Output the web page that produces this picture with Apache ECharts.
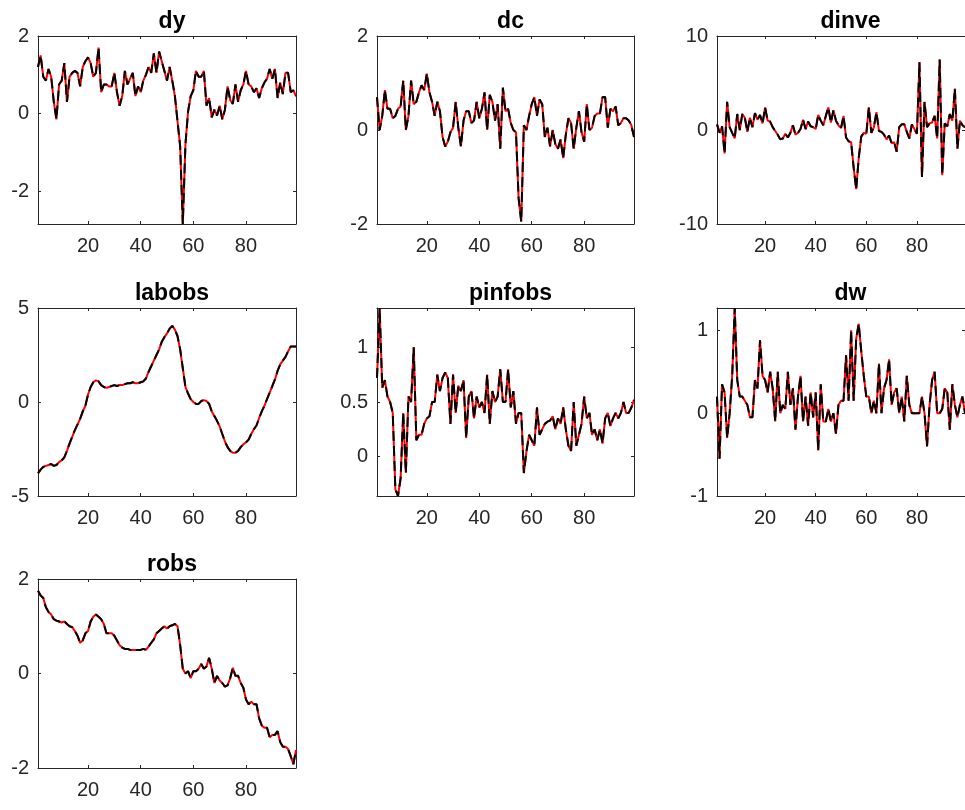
<!DOCTYPE html>
<html>
<head>
<meta charset="utf-8">
<script src="https://cdn.jsdelivr.net/npm/echarts@6/dist/echarts.min.js"></script>
<style>
  html, body { margin: 0; padding: 0; background: #fff; }
  #chart { width: 965px; height: 810px; }
</style>
</head>
<body>
<div id="chart"></div>
<script>
// Observed series, periods 1..99
const dy = [1.2,1.5,0.95,0.85,1.15,0.95,0.3,-0.15,0.75,0.85,1.3,0.3,0.95,1.05,1.1,1.05,0.7,1.2,1.35,1.45,1.3,0.95,1.05,1.7,0.55,0.75,0.75,0.7,0.7,1.05,0.55,0.2,0.45,1.1,0.75,0.9,1.05,0.45,0.7,0.55,0.85,1.0,1.2,1.05,1.55,1.05,1.6,1.35,1.1,0.85,1.2,0.85,0.45,-0.2,-0.85,-2.85,-0.8,0.05,0.45,0.6,1.1,0.95,0.95,1.1,0.2,0.4,-0.1,0.1,-0.05,0.2,-0.15,0.1,0.7,0.35,0.25,0.75,0.3,0.6,0.75,1.1,0.75,0.7,0.55,0.65,0.4,0.65,0.8,0.9,1.15,0.9,1.15,0.4,0.8,0.5,1.05,1.05,0.55,0.6,0.45];
const dc = [0.7,0.0,0.3,0.85,0.45,0.45,0.25,0.3,0.45,0.5,1.05,0.0,0.3,1.05,0.55,0.6,0.8,0.95,0.85,1.2,0.8,0.6,0.3,0.6,0.4,-0.15,-0.35,-0.25,-0.05,0.05,0.6,0.05,-0.35,0.2,0.4,0.4,0.15,0.2,0.6,0.25,0.45,0.8,0.0,0.75,0.6,0.2,0.55,-0.4,0.9,0.4,0.45,0.15,0.0,-0.05,-1.45,-1.95,0.1,0.0,0.3,0.55,0.7,0.3,0.65,0.55,-0.15,0.05,-0.35,0.0,-0.3,-0.4,-0.2,-0.6,-0.1,0.25,0.15,-0.4,0.05,0.4,-0.05,-0.25,0.55,0.0,0.05,0.3,0.35,0.35,0.7,0.7,0.05,0.45,0.4,0.5,0.1,0.15,0.25,0.25,0.2,0.1,-0.15];
const dinve = [0.6,-0.3,0.4,-2.5,3.0,0.3,-0.3,-0.9,1.7,0.0,1.7,1.3,-0.2,1.3,0.3,1.8,1.1,1.6,0.7,2.4,1.0,0.9,0.3,-0.1,-0.5,-1.0,-0.9,-0.4,-0.8,-0.3,0.5,-0.5,-0.3,0.1,1.1,0.1,0.9,0.4,0.3,0.1,1.6,1.0,0.5,1.5,2.4,0.8,2.1,1.0,0.5,0.2,1.5,-0.8,-1.2,-1.3,-4.0,-6.3,-3.0,-0.7,-0.3,-0.4,2.4,-0.3,0.3,1.9,-0.1,-0.2,-0.5,-1.0,-0.6,-1.4,-1.3,-2.3,0.3,0.6,0.6,-0.2,-0.9,0.6,0.1,-0.4,7.2,-5.0,3.0,0.3,0.7,0.8,1.5,-0.9,7.5,-4.8,0.7,0.4,1.7,1.0,4.4,-2.0,1.0,0.5,0.3];
const labobs = [-3.8,-3.6,-3.45,-3.4,-3.35,-3.3,-3.4,-3.35,-3.2,-3.1,-2.95,-2.6,-2.2,-1.85,-1.5,-1.2,-0.9,-0.5,-0.2,0.4,0.8,1.05,1.15,1.1,0.9,0.8,0.75,0.8,0.85,0.9,0.85,0.9,0.9,0.95,1.0,1.0,1.05,1.0,1.0,1.05,1.1,1.25,1.6,1.9,2.2,2.5,2.8,3.2,3.45,3.65,3.9,4.05,3.85,3.5,2.8,1.8,0.8,0.45,0.15,0.0,-0.1,-0.1,0.05,0.1,0.05,-0.1,-0.5,-0.75,-1.0,-1.3,-1.7,-2.1,-2.4,-2.6,-2.7,-2.7,-2.6,-2.4,-2.25,-2.15,-2.0,-1.7,-1.45,-1.25,-0.85,-0.5,-0.2,0.15,0.5,0.85,1.2,1.65,2.0,2.2,2.4,2.7,2.95,2.95,2.95];
const pinfobs = [0.72,1.36,0.63,0.7,0.55,0.5,0.4,-0.3,-0.36,-0.2,0.4,-0.15,0.55,0.5,1.0,0.15,0.2,0.2,0.3,0.35,0.37,0.5,0.5,0.75,0.6,0.72,0.77,0.72,0.3,0.75,0.4,0.65,0.6,0.7,0.17,0.55,0.6,0.35,0.55,0.45,0.5,0.4,0.75,0.3,0.6,0.5,0.55,0.8,0.5,0.5,0.8,0.45,0.6,0.3,0.4,0.4,-0.15,0.05,0.2,0.15,0.1,0.45,0.2,0.25,0.3,0.32,0.33,0.37,0.25,0.35,0.3,0.45,0.25,0.1,0.05,0.5,0.1,0.2,0.3,0.55,0.35,0.4,0.2,0.25,0.15,0.25,0.12,0.35,0.4,0.28,0.35,0.4,0.35,0.4,0.5,0.4,0.4,0.45,0.52];
const dw = [0.2,-0.55,0.35,0.25,-0.3,0.0,0.45,1.27,0.4,0.2,0.2,0.15,0.1,-0.05,-0.05,0.4,0.3,0.88,0.45,0.4,0.25,0.5,0.3,-0.1,0.5,0.0,0.1,0.05,0.5,0.1,0.3,-0.2,0.2,0.45,-0.1,0.2,-0.15,0.25,-0.05,0.25,-0.45,0.35,-0.1,-0.1,0.05,-0.1,0.0,-0.25,0.1,0.15,0.15,0.7,0.15,1.0,0.15,0.9,1.08,0.75,0.45,0.2,0.2,0.0,0.15,0.0,0.6,0.0,0.3,0.4,0.65,0.1,0.25,0.3,0.0,0.2,-0.1,0.45,0.1,0.0,0.0,0.0,0.0,0.2,0.0,-0.4,0.1,0.4,0.5,0.0,0.0,0.05,0.3,0.25,-0.2,0.35,0.1,-0.05,0.1,0.2,0.0];
const robs = [1.75,1.65,1.6,1.4,1.3,1.25,1.15,1.12,1.1,1.08,1.1,1.05,1.0,0.98,0.9,0.8,0.65,0.7,0.85,0.9,1.1,1.2,1.25,1.2,1.15,1.05,0.85,0.85,0.85,0.8,0.7,0.6,0.55,0.52,0.52,0.5,0.5,0.5,0.5,0.5,0.52,0.5,0.57,0.65,0.72,0.85,0.9,0.95,1.0,0.95,1.0,1.02,1.05,1.0,0.6,0.1,0.0,0.05,-0.1,0.05,0.05,0.1,0.2,0.1,0.15,0.33,0.1,-0.2,-0.05,-0.15,-0.2,-0.28,-0.25,-0.1,0.12,-0.05,-0.05,-0.2,-0.3,-0.55,-0.65,-0.6,-0.65,-0.65,-0.95,-1.1,-1.15,-1.15,-1.35,-1.3,-1.3,-1.22,-1.45,-1.55,-1.55,-1.6,-1.75,-1.92,-1.62];

// Tick labels
const xTicks = [20, 40, 60, 80];
const yTicksDy = [-2, 0, 2];
const yTicksDc = [-2, 0, 2];
const yTicksDinve = [-10, 0, 10];
const yTicksLabobs = [-5, 0, 5];
const yTicksPinfobs = [0, 0.5, 1];
const yTicksDw = [-1, 0, 1];
const yTicksRobs = [-2, 0, 2];

const panels = [
  { title: 'dy',      data: dy,      col: 0, row: 0, ticks: yTicksDy,      min: Math.min(...dy),      max: 2 },
  { title: 'dc',      data: dc,      col: 1, row: 0, ticks: yTicksDc,      min: -2,                   max: 2 },
  { title: 'dinve',   data: dinve,   col: 2, row: 0, ticks: yTicksDinve,   min: -10,                  max: 10 },
  { title: 'labobs',  data: labobs,  col: 0, row: 1, ticks: yTicksLabobs,  min: -5,                   max: 5 },
  { title: 'pinfobs', data: pinfobs, col: 1, row: 1, ticks: yTicksPinfobs, min: Math.min(...pinfobs), max: Math.max(...pinfobs) },
  { title: 'dw',      data: dw,      col: 2, row: 1, ticks: yTicksDw,      min: -1,                   max: Math.max(...dw) },
  { title: 'robs',    data: robs,    col: 0, row: 2, ticks: yTicksRobs,    min: -2,                   max: 2 }
];

const colLeft = [38, 377, 717];
const colWidth = [258, 257, 257];
const rowTop = [36, 308, 579];
const rowHeight = [188, 188, 189];

const FONT = "'Liberation Sans', Arial, Helvetica, sans-serif";
const AXIS_COLOR = '#262626';

const grid = [], xAxis = [], yAxis = [], series = [], title = [];

panels.forEach((p, i) => {
  const left = colLeft[p.col], top = rowTop[p.row];
  const w = colWidth[p.col], h = rowHeight[p.row];
  grid.push({ left: left, top: top, width: w, height: h, containLabel: false });

  title.push({
    text: p.title,
    left: left + w / 2,
    top: top - 31,
    textAlign: 'center',
    textStyle: { fontFamily: FONT, fontSize: 23, fontWeight: 'bold', color: '#000' }
  });

  const lineStyle = { color: AXIS_COLOR, width: 1 };
  const tickCommon = { show: true, inside: true, length: 3, lineStyle: { color: AXIS_COLOR, width: 1 } };

  // bottom x axis (labelled) and mirrored top axis
  xAxis.push({
    type: 'value', gridIndex: i, position: 'bottom', min: 1, max: 99,
    axisLine: { show: true, onZero: false, lineStyle },
    axisTick: Object.assign({ customValues: xTicks }, tickCommon),
    axisLabel: { customValues: xTicks, margin: 12, fontFamily: FONT, fontSize: 20, color: AXIS_COLOR },
    splitLine: { show: false }
  });
  xAxis.push({
    type: 'value', gridIndex: i, position: 'top', min: 1, max: 99,
    axisLine: { show: true, onZero: false, lineStyle },
    axisTick: Object.assign({ customValues: xTicks }, tickCommon),
    axisLabel: { show: false },
    splitLine: { show: false }
  });

  // left y axis (labelled) and mirrored right axis
  yAxis.push({
    type: 'value', gridIndex: i, position: 'left', min: p.min, max: p.max,
    axisLine: { show: true, onZero: false, lineStyle },
    axisTick: Object.assign({ customValues: p.ticks }, tickCommon),
    axisLabel: { customValues: p.ticks, margin: 9, fontFamily: FONT, fontSize: 20, color: AXIS_COLOR },
    splitLine: { show: false }
  });
  yAxis.push({
    type: 'value', gridIndex: i, position: 'right', min: p.min, max: p.max,
    axisLine: { show: true, onZero: false, lineStyle },
    axisTick: Object.assign({ customValues: p.ticks }, tickCommon),
    axisLabel: { show: false },
    splitLine: { show: false }
  });

  const pts = p.data.map((v, k) => [k + 1, v]);
  series.push({
    type: 'line', name: p.title, xAxisIndex: 2 * i, yAxisIndex: 2 * i,
    data: pts, showSymbol: false, symbol: 'none', animation: false,
    lineStyle: { color: '#ff0000', width: 2 }, z: 2
  });
  series.push({
    type: 'line', name: p.title, xAxisIndex: 2 * i, yAxisIndex: 2 * i,
    data: pts, showSymbol: false, symbol: 'none', animation: false,
    lineStyle: { color: '#000000', width: 2, type: [10, 5] }, z: 3
  });
});

const chart = echarts.init(document.getElementById('chart'), null, { renderer: 'canvas' });
chart.setOption({
  backgroundColor: '#ffffff',
  animation: false,
  title, grid, xAxis, yAxis, series
});
</script>
</body>
</html>
